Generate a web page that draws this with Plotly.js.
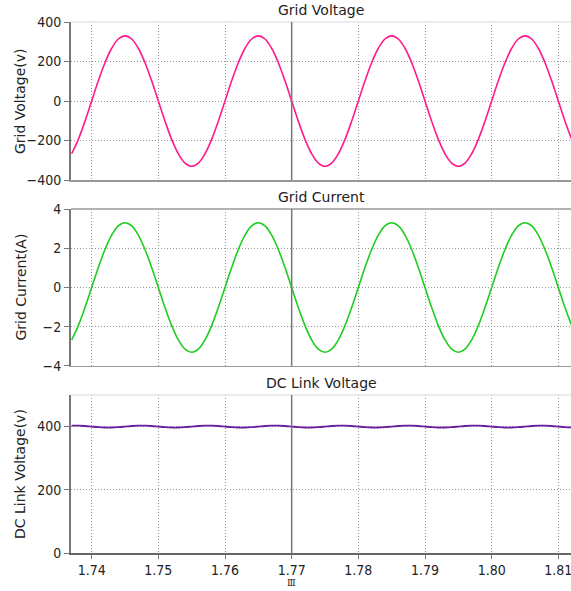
<!DOCTYPE html>
<html>
<head>
<meta charset="utf-8">
<script src="https://cdn.plot.ly/plotly-3.0.1.min.js"></script>
<style>html,body{margin:0;padding:0;background:#fff;}#chart{width:571px;height:591px;}</style>
</head>
<body>
<div id="chart"></div>
<script>
// time samples (s)
const time = [1.737,1.738,1.739,1.740,1.741,1.742,1.743,1.744,1.745,1.746,1.747,1.748,1.749,1.750,
  1.751,1.752,1.753,1.754,1.755,1.756,1.757,1.758,1.759,1.760,1.761,1.762,1.763,1.764,1.765,1.766,
  1.767,1.768,1.769,1.770,1.771,1.772,1.773,1.774,1.775,1.776,1.777,1.778,1.779,1.780,1.781,1.782,
  1.783,1.784,1.785,1.786,1.787,1.788,1.789,1.790,1.791,1.792,1.793,1.794,1.795,1.796,1.797,1.798,
  1.799,1.800,1.801,1.802,1.803,1.804,1.805,1.806,1.807,1.808,1.809,1.810,1.811,1.812];

// Grid voltage (V)
const gridVoltage = [-267,-194,-102,0,102,194,267,314,330,314,267,194,102,0,-102,-194,-267,-314,-330,-314,
  -267,-194,-102,0,102,194,267,314,330,314,267,194,102,0,-102,-194,-267,-314,-330,-314,
  -267,-194,-102,0,102,194,267,314,330,314,267,194,102,0,-102,-194,-267,-314,-330,-314,
  -267,-194,-102,0,102,194,267,314,330,314,267,194,102,0,-102,-194];

// Grid current (A)
const gridCurrent = [-2.67,-1.94,-1.02,0,1.02,1.94,2.67,3.14,3.30,3.14,2.67,1.94,1.02,0,-1.02,-1.94,-2.67,-3.14,-3.30,-3.14,
  -2.67,-1.94,-1.02,0,1.02,1.94,2.67,3.14,3.30,3.14,2.67,1.94,1.02,0,-1.02,-1.94,-2.67,-3.14,-3.30,-3.14,
  -2.67,-1.94,-1.02,0,1.02,1.94,2.67,3.14,3.30,3.14,2.67,1.94,1.02,0,-1.02,-1.94,-2.67,-3.14,-3.30,-3.14,
  -2.67,-1.94,-1.02,0,1.02,1.94,2.67,3.14,3.30,3.14,2.67,1.94,1.02,0,-1.02,-1.94];

// DC link voltage (V)
const dcLink = [402.9,402.9,401.8,400,398.2,397.1,397.1,398.2,400,401.8,
  402.9,402.9,401.8,400,398.2,397.1,397.1,398.2,400,401.8,
  402.9,402.9,401.8,400,398.2,397.1,397.1,398.2,400,401.8,
  402.9,402.9,401.8,400,398.2,397.1,397.1,398.2,400,401.8,
  402.9,402.9,401.8,400,398.2,397.1,397.1,398.2,400,401.8,
  402.9,402.9,401.8,400,398.2,397.1,397.1,398.2,400,401.8,
  402.9,402.9,401.8,400,398.2,397.1,397.1,398.2,400,401.8,
  402.9,402.9,401.8,400,398.2,397.1];

const xTicks = [1.74,1.75,1.76,1.77,1.78,1.79,1.80,1.81];
const xTickText = ['1.74','1.75','1.76','1.77','1.78','1.79','1.80','1.81'];
const vTicks = [-400,-200,0,200,400];
const iTicks = [-4,-2,0,2,4];
const dcTicks = [0,200,400];
const panelTitles = ['Grid Voltage','Grid Current','DC Link Voltage'];
const axisTitles = ['Grid Voltage(v)','Grid Current(A)','DC Link Voltage(v)'];
const cursorTime = 1.77;

const FONT = 'DejaVu Sans, Verdana, sans-serif';
const TICKFONT = 'DejaVu Sans Condensed, DejaVu Sans, sans-serif';
const xr = [1.7369, 1.8119];
const GRIDDASH = '1px,2px';

const traces = [
  {x: time, y: gridVoltage, xaxis:'x', yaxis:'y', type:'scatter', mode:'lines',
   line:{color:'#ff1a8c', width:1.6, shape:'spline'}},
  {x: time, y: gridCurrent, xaxis:'x2', yaxis:'y2', type:'scatter', mode:'lines',
   line:{color:'#1fcc1f', width:1.6, shape:'spline'}},
  {x: time, y: dcLink, xaxis:'x3', yaxis:'y3', type:'scatter', mode:'lines',
   line:{color:'#6a1f9e', width:1.8, shape:'spline'}}
];

function xax(anchor, labels){
  return {domain:[0,1], anchor:anchor, range:xr, tickvals:xTicks, ticktext:xTickText,
    showticklabels:labels, ticks: labels ? 'outside' : '', ticklen:4, tickcolor:'#777',
    ticklabeloverflow:'allow',
    showgrid:true, gridcolor:'#999', griddash:GRIDDASH, gridwidth:1,
    showline:true, linecolor: labels ? '#666' : '#999', linewidth:1.5, zeroline:false,
    tickfont:{family:TICKFONT, size:14, color:'#222'}};
}
function yax(anchor, dom, range, ticks){
  return {domain:dom, anchor:anchor, range:range, tickvals:ticks,
    ticks:'outside', ticklen:5, tickcolor:'#777',
    showgrid:true, gridcolor:'#999', griddash:GRIDDASH, gridwidth:1,
    showline:true, linecolor:'#777', linewidth:2, zeroline:false,
    tickfont:{family:TICKFONT, size:14, color:'#222'}};
}

const doms = [[0.7024,1],[0.3522,0.6478],[0,0.2976]];
const tFont = {family:FONT, size:14, color:'#222'};

const layout = {
  width:571, height:591,
  margin:{l:71, r:0, t:22, b:38},
  paper_bgcolor:'#fff', plot_bgcolor:'#fff',
  showlegend:false,
  font:{family:FONT, color:'#222'},
  xaxis: xax('y', false),
  xaxis2: xax('y2', false),
  xaxis3: xax('y3', true),
  yaxis: yax('x', doms[0], [-400,400], vTicks),
  yaxis2: yax('x2', doms[1], [-4,4], iTicks),
  yaxis3: yax('x3', doms[2], [0,500], dcTicks),
  shapes: [
    // panel top borders
    {type:'line', xref:'paper', yref:'y domain', x0:0, x1:1, y0:1, y1:1, line:{color:'#e6e6e6', width:1.5}},
    {type:'line', xref:'paper', yref:'y2 domain', x0:0, x1:1, y0:1, y1:1, line:{color:'#999', width:1.5}},
    {type:'line', xref:'paper', yref:'y3 domain', x0:0, x1:1, y0:1, y1:1, line:{color:'#e6e6e6', width:1.5}},
    // cursor
    {type:'line', xref:'x', yref:'y domain', x0:cursorTime, x1:cursorTime, y0:0, y1:1, line:{color:'#777', width:1.5}},
    {type:'line', xref:'x2', yref:'y2 domain', x0:cursorTime, x1:cursorTime, y0:0, y1:1, line:{color:'#777', width:1.5}},
    {type:'line', xref:'x3', yref:'y3 domain', x0:cursorTime, x1:cursorTime, y0:0, y1:1, line:{color:'#777', width:1.5}}
  ],
  annotations: [
    {text:panelTitles[0], xref:'paper', yref:'paper', x:0.5, y:1.0226, showarrow:false, xanchor:'center', yanchor:'middle', font:tFont},
    {text:panelTitles[1], xref:'paper', yref:'paper', x:0.5, y:0.6704, showarrow:false, xanchor:'center', yanchor:'middle', font:tFont},
    {text:panelTitles[2], xref:'paper', yref:'paper', x:0.5, y:0.3202, showarrow:false, xanchor:'center', yanchor:'middle', font:tFont},
    {text:axisTitles[0], xref:'paper', yref:'paper', x:-0.102, y:(doms[0][0]+doms[0][1])/2, textangle:-90, showarrow:false, xanchor:'center', yanchor:'middle', font:tFont},
    {text:axisTitles[1], xref:'paper', yref:'paper', x:-0.102, y:(doms[1][0]+doms[1][1])/2, textangle:-90, showarrow:false, xanchor:'center', yanchor:'middle', font:tFont},
    {text:axisTitles[2], xref:'paper', yref:'paper', x:-0.102, y:(doms[2][0]+doms[2][1])/2, textangle:-90, showarrow:false, xanchor:'center', yanchor:'middle', font:tFont},
    {text:'Ⅲ', xref:'x3', yref:'paper', x:cursorTime, y:-0.056, showarrow:false, xanchor:'center', yanchor:'middle', font:{family:'DejaVu Serif, serif', size:9, color:'#222'}}
  ]
};

Plotly.newPlot('chart', traces, layout, {staticPlot:true, displayModeBar:false});
</script>
</body>
</html>
